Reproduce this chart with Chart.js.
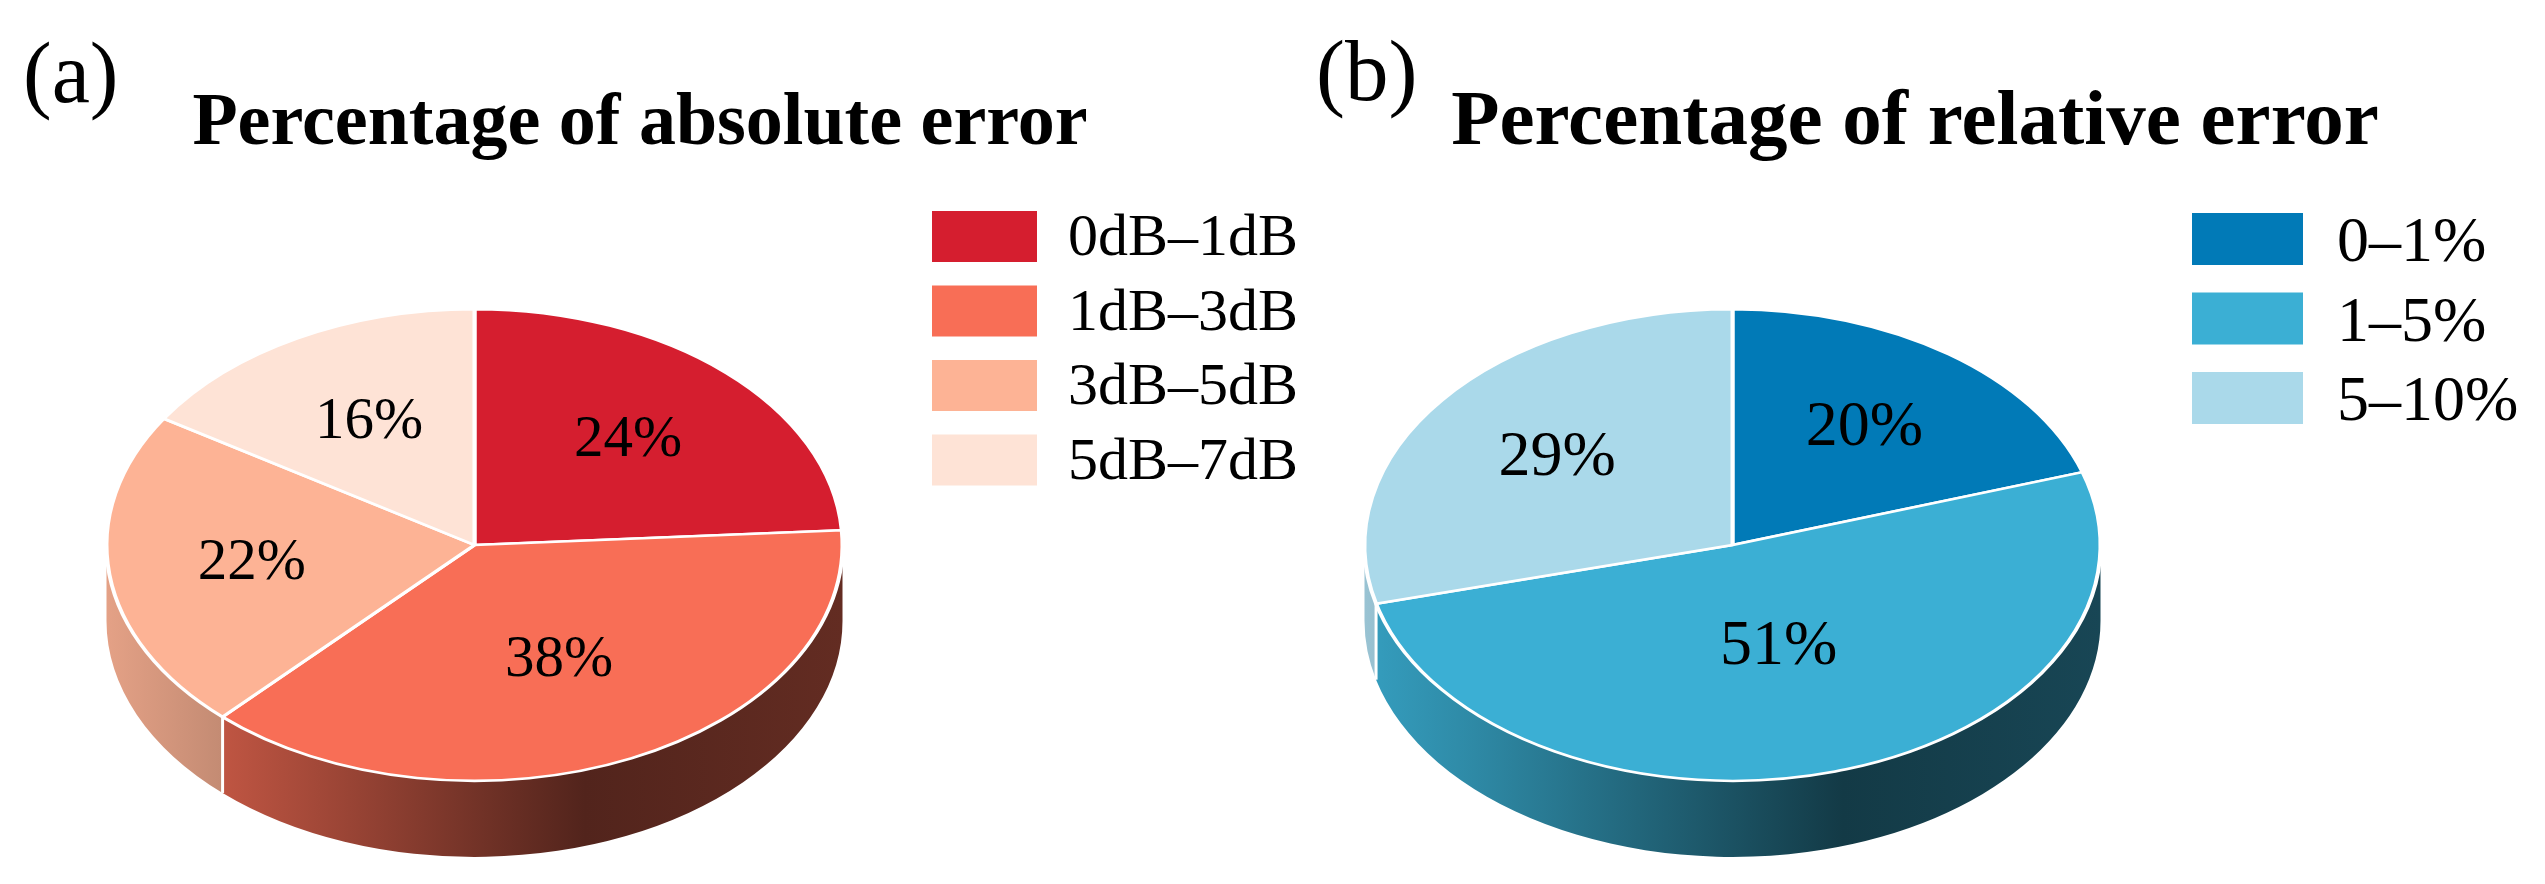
<!DOCTYPE html>
<html>
<head>
<meta charset="utf-8">
<script src="https://cdn.jsdelivr.net/npm/chart.js@4.4.0/dist/chart.umd.min.js"></script>
<style>
  html, body { margin: 0; padding: 0; background: #fff; }
  #wrap { position: relative; width: 2545px; height: 884px; overflow: hidden; }
  .panel { position: absolute; top: 0; }
</style>
</head>
<body>
<div id="wrap">
  <canvas id="chartA" class="panel" style="left:0" width="1330" height="884"></canvas>
  <canvas id="chartB" class="panel" style="left:1272px" width="1273" height="884"></canvas>
</div>
<script>
// (a) absolute error
const absLabels = ["0dB–1dB", "1dB–3dB", "3dB–5dB", "5dB–7dB"];
const absValues = [24, 38, 22, 16];
const absColors = ["#d51e2f", "#f86e56", "#fdb395", "#fee3d6"];

// (b) relative error
const relLabels = ["0–1%", "1–5%", "5–10%"];
const relValues = [20, 51, 29];
const relColors = ["#017ab7", "#3bafd4", "#aad9ea"];

const SERIF = '"Liberation Serif", "Times New Roman", serif';

const shade = (hex, f) => {
    const n = parseInt(hex.slice(1), 16);
    const r = Math.round(((n >> 16) & 255) * f);
    const g = Math.round(((n >> 8) & 255) * f);
    const b = Math.round((n & 255) * f);
    return `rgb(${r},${g},${b})`;
};

// tilted pie: side wall first, then squash the top face
const pie3d = {
    id: "pie3d",
    beforeDatasetsDraw(chart, args, opts) {
        const ctx = chart.ctx;
        const arcs = chart.getDatasetMeta(0).data;
        const cx = arcs[0].x, cy = arcs[0].y, r = arcs[0].outerRadius;
        const k = opts.tilt, d = opts.depth / k;
        const colors = chart.data.datasets[0].backgroundColor;
        ctx.save();
        ctx.translate(0, cy);
        ctx.scale(1, k);
        ctx.translate(0, -cy);
        arcs.forEach((arc, i) => {
            const a0 = Math.max(arc.startAngle, 0);
            const a1 = Math.min(arc.endAngle, Math.PI);
            if (a1 <= a0) return;
            const grad = ctx.createLinearGradient(cx - r, 0, cx + r, 0);
            grad.addColorStop(0, shade(colors[i], 0.9));
            grad.addColorStop(0.15, shade(colors[i], 0.78));
            grad.addColorStop(0.65, shade(colors[i], 0.33));
            grad.addColorStop(1, shade(colors[i], 0.4));
            ctx.beginPath();
            ctx.arc(cx, cy, r, a0, a1);
            ctx.arc(cx, cy + d, r, a1, a0, true);
            ctx.closePath();
            ctx.fillStyle = grad;
            ctx.fill();
        });
        // white seams where slices meet on the wall
        ctx.strokeStyle = "#fff";
        ctx.lineWidth = 3;
        arcs.forEach(arc => {
            const a = arc.endAngle;
            if (a > 0 && a < Math.PI) {
                const x = cx + r * Math.cos(a), y = cy + r * Math.sin(a);
                ctx.beginPath();
                ctx.moveTo(x, y);
                ctx.lineTo(x, y + d);
                ctx.stroke();
            }
        });
    },
    afterDatasetsDraw(chart, args, opts) {
        const ctx = chart.ctx;
        ctx.restore();
        const arcs = chart.getDatasetMeta(0).data;
        const values = chart.data.datasets[0].data;
        const total = values.reduce((s, v) => s + v, 0);
        ctx.save();
        ctx.fillStyle = "#000";
        ctx.font = `${opts.labelSize}px ${SERIF}`;
        ctx.textAlign = "center";
        ctx.textBaseline = "middle";
        arcs.forEach((arc, i) => {
            const p = values[i] / total;
            const mid = (arc.startAngle + arc.endAngle) / 2;
            // big slices keep their label nearer the middle
            const f = 0.61 - 0.7 * Math.max(0, p - 0.28) - 0.4 * Math.max(0, 0.2 - p);
            const x = arc.x + arc.outerRadius * f * Math.cos(mid);
            const y = arc.y + arc.outerRadius * f * Math.sin(mid) * opts.tilt;
            ctx.fillText(values[i] + "%", x, y);
        });
        ctx.restore();
    },
    afterDraw(chart, args, opts) {
        const ctx = chart.ctx;
        const ds = chart.data.datasets[0];
        ctx.save();
        ctx.fillStyle = "#000";
        ctx.textBaseline = "alphabetic";
        // panel tag
        ctx.textAlign = "left";
        ctx.font = `${opts.tag.size}px ${SERIF}`;
        ctx.fillText(opts.tag.text, opts.tag.x, opts.tag.y);
        // title
        ctx.textAlign = "center";
        ctx.font = `bold ${opts.title.size}px ${SERIF}`;
        ctx.fillText(opts.title.text, opts.title.x, opts.title.y);
        // legend
        const lg = opts.legend;
        ctx.textAlign = "left";
        ctx.font = `${lg.size}px ${SERIF}`;
        chart.data.labels.forEach((label, i) => {
            const top = lg.y + i * lg.step;
            ctx.fillStyle = ds.backgroundColor[i];
            ctx.fillRect(lg.x, top, lg.boxW, lg.boxH);
            ctx.fillStyle = "#000";
            ctx.fillText(label, lg.textX, top + lg.baseline);
        });
        ctx.restore();
    }
};

const makePie = (id, labels, values, colors, padRight, panel) => {
    return new Chart(document.getElementById(id), {
        type: "pie",
        data: {
            labels: labels,
            datasets: [{
                data: values,
                backgroundColor: colors,
                borderColor: "#ffffff",
                borderWidth: 4,
                radius: 368,
                clip: false
            }]
        },
        options: {
            responsive: false,
            animation: false,
            events: [],
            layout: { padding: { top: 206, right: padRight, left: 0, bottom: 0 } },
            plugins: {
                legend: { display: false },
                tooltip: { enabled: false },
                pie3d: panel
            }
        },
        plugins: [pie3d]
    });
};

makePie("chartA", absLabels, absValues, absColors, 381, {
    tilt: 0.641,
    depth: 76,
    labelSize: 59,
    tag: { text: "(a)", size: 86, x: 23, y: 102 },
    title: { text: "Percentage of absolute error", size: 74, x: 640, y: 144 },
    legend: { x: 932, y: 211, step: 74.5, boxW: 105, boxH: 51, textX: 1068, baseline: 44, size: 60 }
});

makePie("chartB", relLabels, relValues, relColors, 352, {
    tilt: 0.641,
    depth: 76,
    labelSize: 64,
    tag: { text: "(b)", size: 87, x: 44, y: 100 },
    title: { text: "Percentage of relative error", size: 79, x: 643, y: 144 },
    legend: { x: 920, y: 213, step: 79.5, boxW: 111, boxH: 52, textX: 1065, baseline: 48, size: 64 }
});
</script>
</body>
</html>
